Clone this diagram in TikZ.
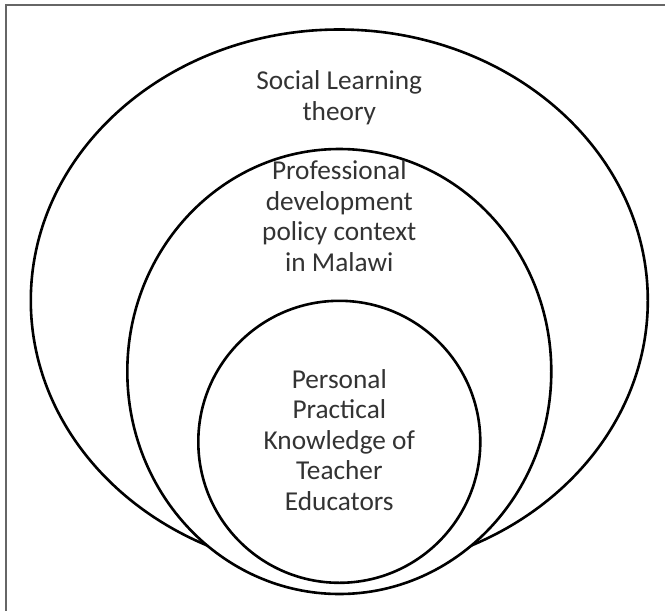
\documentclass[tikz,border=0pt]{standalone}
\usepackage{fontspec}
\setmainfont{Carlito}
\usetikzlibrary{shapes.geometric}

\begin{document}
\begin{tikzpicture}[x=1pt, y=-1pt,
    ring/.style={draw=black, line width=2.6pt, fill=white, inner sep=0pt},
    lbl/.style={align=center, anchor=base, text=black!80, font=\fontsize{27.3}{30.5}\selectfont}]
        \useasboundingbox (0,0) rectangle (665,611);
        % frame
        \draw [black!60, line width=1.2pt] (6,611) |- (665,5);
        % nested circles, drawn outside in
        \node (outer) [ring, ellipse, minimum width=617pt, minimum height=542pt] at (339.3,300.5) {};
        \node (middle) [ring, ellipse, minimum width=424pt, minimum height=445pt] at (339.3,371.5) {};
        \node (inner) [ring, circle, minimum size=282pt] at (339.3,441.8) {};
        % labels (base = last line)
        \node (slt) [lbl] at (339.3,120) {Social Learning\\theory};
        \node (pdp) [lbl] at (339.3,271) {Professional\\development\\policy context\\in Malawi};
        \node (ppk) [lbl] at (339.3,510) {Personal\\Practical\\Knowledge of\\Teacher\\Educators};
    \end{tikzpicture}
\end{document}
